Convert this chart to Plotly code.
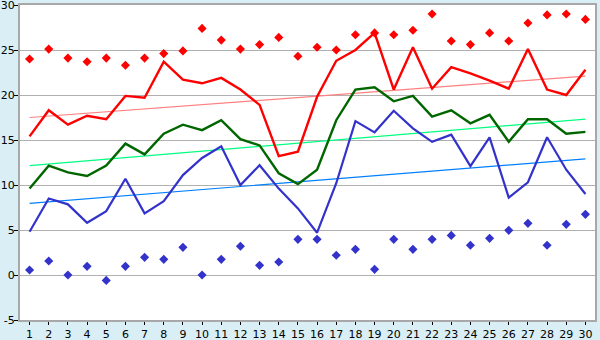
import plotly.graph_objects as go

days = list(range(1, 31))

red_line = [15.4, 18.3, 16.7, 17.7, 17.3, 19.9, 19.7, 23.7, 21.7, 21.3,
            21.9, 20.6, 18.9, 13.2, 13.7, 19.8, 23.8, 25.0, 26.9, 20.6,
            25.3, 20.7, 23.1, 22.4, 21.6, 20.7, 25.1, 20.6, 20.0, 22.8]
red_dots = [24.0, 25.1, 24.1, 23.7, 24.1, 23.3, 24.1, 24.6, 24.9, 27.4,
            26.1, 25.1, 25.6, 26.4, 24.3, 25.3, 25.0, 26.7, 26.9, 26.7,
            27.2, 29.0, 26.0, 25.6, 26.9, 26.0, 28.0, 28.9, 29.0, 28.4]
green_line = [9.6, 12.15, 11.4, 11.0, 12.15, 14.6, 13.4, 15.7, 16.7, 16.1,
              17.2, 15.1, 14.4, 11.3, 10.1, 11.7, 17.2, 20.6, 20.85, 19.3,
              19.9, 17.6, 18.3, 16.85, 17.8, 14.8, 17.3, 17.3, 15.7, 15.9]
blue_line = [4.8, 8.5, 7.85, 5.8, 7.1, 10.7, 6.85, 8.2, 11.1, 13.0,
             14.3, 10.0, 12.2, 9.6, 7.4, 4.7, 10.2, 17.1, 15.85, 18.25,
             16.3, 14.8, 15.6, 12.1, 15.3, 8.6, 10.3, 15.3, 11.7, 9.0]
blue_dots = [0.56, 1.56, 0.0, 0.96, -0.6, 0.96, 1.96, 1.74, 3.07, 0.0,
             1.74, 3.2, 1.07, 1.44, 3.96, 3.96, 2.19, 2.85, 0.63, 3.96,
             2.85, 3.96, 4.4, 3.3, 4.07, 4.96, 5.74, 3.3, 5.63, 6.74]

trend_x = [1, 30]
red_trend = [17.5, 22.1]
green_trend = [12.15, 17.33]
blue_trend = [7.96, 12.9]

y_ticks = [-5, 0, 5, 10, 15, 20, 25, 30]

fig = go.Figure()

fig.add_trace(go.Scatter(x=trend_x, y=red_trend, mode="lines",
                         line=dict(color="#ff8080", width=1.2)))
fig.add_trace(go.Scatter(x=trend_x, y=green_trend, mode="lines",
                         line=dict(color="#00ff80", width=1.2)))
fig.add_trace(go.Scatter(x=trend_x, y=blue_trend, mode="lines",
                         line=dict(color="#0080ff", width=1.2)))

fig.add_trace(go.Scatter(x=days, y=blue_line, mode="lines",
                         line=dict(color="#3333cc", width=2.2)))
fig.add_trace(go.Scatter(x=days, y=green_line, mode="lines",
                         line=dict(color="#006600", width=2.4)))
fig.add_trace(go.Scatter(x=days, y=red_line, mode="lines",
                         line=dict(color="#ff0000", width=2.4)))

fig.add_trace(go.Scatter(x=days, y=red_dots, mode="markers",
                         marker=dict(symbol="diamond", size=7, color="#ff0000",
                                     line=dict(width=0))))
fig.add_trace(go.Scatter(x=days, y=blue_dots, mode="markers",
                         marker=dict(symbol="diamond", size=7, color="#3333cc",
                                     line=dict(width=0))))

fig.update_layout(
    width=600, height=340,
    margin=dict(l=20, r=5, t=5, b=20, pad=0),
    paper_bgcolor="#d9eff5",
    plot_bgcolor="#ffffff",
    showlegend=False,
    font=dict(family="DejaVu Sans", size=11, color="#000000"),
    xaxis=dict(range=[0.5, 30.5], tickmode="array", tickvals=days,
               ticktext=[str(d) for d in days], automargin=False,
               showgrid=False, zeroline=False,
               showline=True, linecolor="#a8a8a8", linewidth=2, mirror=True,
               ticks="outside", ticklen=3, tickcolor="#000000",
               ticklabeloverflow="allow",
               tickfont=dict(size=11)),
    yaxis=dict(range=[-5, 30], tickmode="array", tickvals=y_ticks,
               ticktext=[str(v) for v in y_ticks],
               automargin=False,
               showgrid=True, gridcolor="#b0b0b0", gridwidth=1,
               zeroline=False,
               showline=True, linecolor="#a8a8a8", linewidth=2, mirror=True,
               ticks="outside", ticklen=4, tickcolor="#000000",
               ticklabeloverflow="allow", ticklabelstandoff=-3,
               tickfont=dict(size=11)),
)

fig.write_html(
    "out.html",
    config={"displayModeBar": False, "staticPlot": True},
    post_script="document.documentElement.style.margin='0';"
                "document.body.style.margin='0';"
                "document.body.style.padding='0';"
                "document.body.style.overflow='hidden';"
                "document.body.style.background='#d9eff5';",
)
